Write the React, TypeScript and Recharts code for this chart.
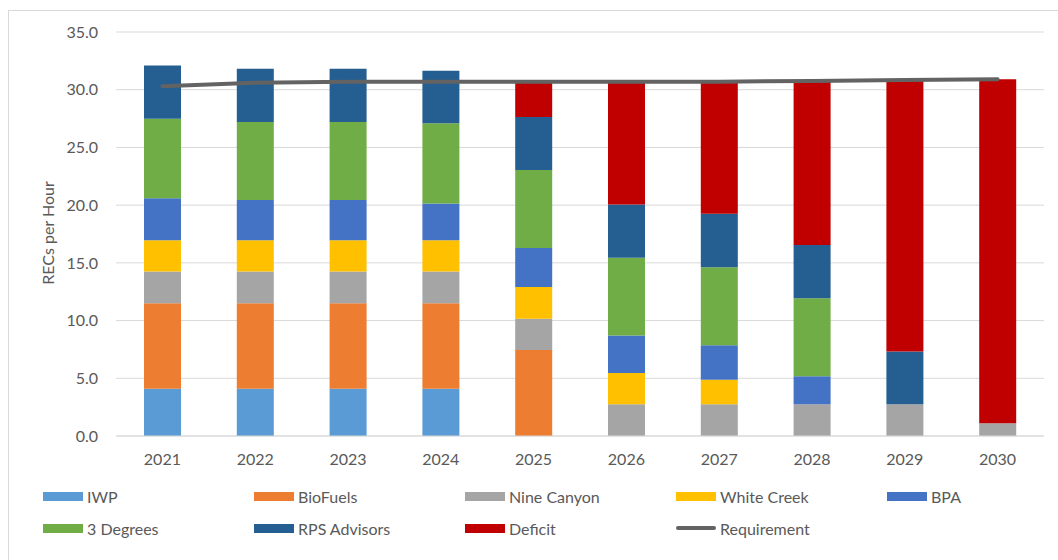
import {
  ComposedChart, Bar, Line, XAxis, YAxis, CartesianGrid,
} from 'recharts'

const years = ['2021', '2022', '2023', '2024', '2025', '2026', '2027', '2028', '2029', '2030']
const iwp = [4.1, 4.1, 4.1, 4.1, 0, 0, 0, 0, 0, 0]
const bioFuels = [7.4, 7.4, 7.4, 7.4, 7.45, 0, 0, 0, 0, 0]
const nineCanyon = [2.75, 2.75, 2.75, 2.75, 2.7, 2.75, 2.75, 2.75, 2.75, 1.1]
const whiteCreek = [2.7, 2.7, 2.7, 2.7, 2.75, 2.7, 2.13, 0, 0, 0]
const bpa = [3.64, 3.5, 3.5, 3.2, 3.38, 3.26, 2.98, 2.43, 0, 0]
const threeDegrees = [6.9, 6.76, 6.76, 6.94, 6.76, 6.74, 6.77, 6.76, 0, 0]
const rpsAdvisors = [4.6, 4.6, 4.6, 4.56, 4.6, 4.6, 4.62, 4.6, 4.56, 0]
const deficit = [0, 0, 0, 0, 2.95, 10.64, 11.42, 14.19, 23.5, 29.8]
const requirement = [30.3, 30.6, 30.7, 30.7, 30.7, 30.7, 30.7, 30.75, 30.85, 30.9]
const yTicks = [0, 5, 10, 15, 20, 25, 30, 35]

const bars = [
  { key: 'iwp', name: 'IWP', color: '#5B9BD5', values: iwp },
  { key: 'bioFuels', name: 'BioFuels', color: '#ED7D31', values: bioFuels },
  { key: 'nineCanyon', name: 'Nine Canyon', color: '#A5A5A5', values: nineCanyon },
  { key: 'whiteCreek', name: 'White Creek', color: '#FFC000', values: whiteCreek },
  { key: 'bpa', name: 'BPA', color: '#4472C4', values: bpa },
  { key: 'threeDegrees', name: '3 Degrees', color: '#70AD47', values: threeDegrees },
  { key: 'rpsAdvisors', name: 'RPS Advisors', color: '#255E91', values: rpsAdvisors },
  { key: 'deficit', name: 'Deficit', color: '#C00000', values: deficit },
]

const lineColor = '#636363'
const textColor = '#595959'
const font = 'Lato, "Open Sans", sans-serif'

const data = years.map((year, i) => {
  const row: Record<string, string | number> = { year, requirement: requirement[i] }
  bars.forEach((b) => { row[b.key] = b.values[i] })
  return row
})

const legendItems = [
  ...bars.map((b) => ({ name: b.name, color: b.color, line: false })),
  { name: 'Requirement', color: lineColor, line: true },
]

function YLabel() {
  return (
    <text
      x={47}
      y={233}
      transform="rotate(-90 47 233)"
      textAnchor="middle"
      dominantBaseline="central"
      fill={textColor}
      style={{ fontFamily: font, fontSize: 16 }}
    >
      RECs per Hour
    </text>
  )
}

export default function App() {
  return (
    <div style={{ position: 'absolute', left: 0, top: 0, width: 1058, height: 560, fontFamily: font }}>
      <div
        style={{
          position: 'absolute', left: 8, top: 10, width: 1050, height: 550,
          borderLeft: '1px solid #d9d9d9', borderTop: '1px solid #d9d9d9', boxSizing: 'border-box',
        }}
      />
      <div style={{ position: 'absolute', left: 0, top: 0 }}>
        <ComposedChart width={1058} height={470} data={data} margin={{ top: 32, right: 14, bottom: 4, left: 0 }}>
          <CartesianGrid vertical={false} stroke="#d9d9d9" />
          <XAxis
            dataKey="year"
            axisLine={{ stroke: '#d9d9d9' }}
            tickLine={false}
            tickMargin={12}
            height={30}
            tick={{ fill: textColor, fontSize: 16, fontFamily: font }}
          />
          <YAxis
            width={116}
            domain={[0, 35]}
            ticks={yTicks}
            axisLine={false}
            tickLine={false}
            tickSize={6}
            tickMargin={12}
            tickFormatter={(v: number) => v.toFixed(1)}
            tick={{ fill: textColor, fontSize: 16, fontFamily: font }}
            label={{ content: <YLabel /> }}
          />
          {bars.map((b) => (
            <Bar
              key={b.key}
              dataKey={b.key}
              name={b.name}
              stackId="a"
              fill={b.color}
              barSize={37}
              isAnimationActive={false}
            />
          ))}
          <Line
            dataKey="requirement"
            name="Requirement"
            type="linear"
            stroke={lineColor}
            strokeWidth={4}
            strokeLinecap="round"
            dot={false}
            activeDot={false}
            isAnimationActive={false}
          />
        </ComposedChart>
      </div>
      <div
        style={{
          position: 'absolute', left: 43, top: 486,
          display: 'grid', gridTemplateColumns: 'repeat(5, 211px)', rowGap: 12,
        }}
      >
        {legendItems.map((item) => (
          <div key={item.name} style={{ display: 'flex', alignItems: 'center', height: 20 }}>
            <span
              style={{
                display: 'inline-block', width: 40,
                height: item.line ? 4 : 9,
                borderRadius: item.line ? 2 : 0,
                background: item.color, marginRight: 4,
              }}
            />
            <span style={{ color: textColor, fontSize: 16 }}>{item.name}</span>
          </div>
        ))}
      </div>
    </div>
  )
}
